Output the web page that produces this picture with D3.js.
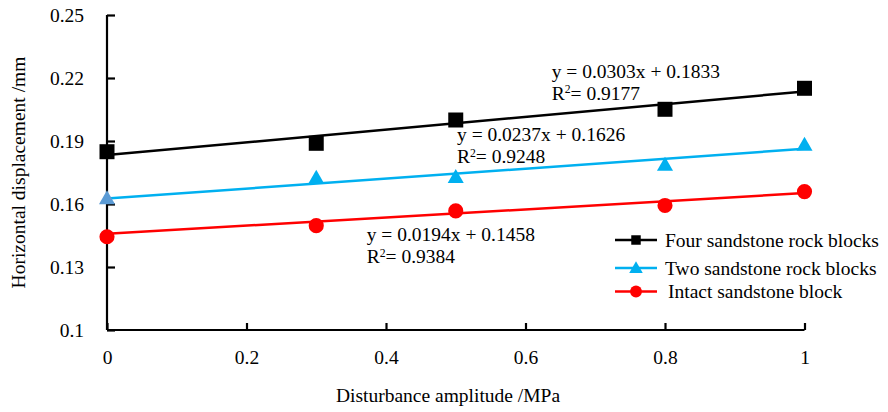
<!DOCTYPE html>
<html>
<head>
<meta charset="utf-8">
<script src="https://cdn.jsdelivr.net/npm/d3@7"></script>
<style>
  html, body { margin: 0; padding: 0; background: #fff; }
  svg { display: block; }
  text { font-family: "Liberation Serif", "Times New Roman", serif; fill: #000; }
</style>
</head>
<body>
<svg id="chart" width="888" height="412"></svg>
<script>
// ---- data ----
const xValues = [0, 0.3, 0.5, 0.8, 1];
const fourBlocks = [0.1849, 0.1889, 0.2000, 0.2051, 0.2151];
const twoBlocks = [0.1621, 0.1719, 0.1722, 0.1781, 0.1876];
const intactBlock = [0.1444, 0.1497, 0.1567, 0.1593, 0.1659];
const seriesNames = ["Four sandstone rock blocks", "Two sandstone rock blocks", "Intact sandstone block"];
const slopes = [0.0303, 0.0237, 0.0194];
const intercepts = [0.1833, 0.1626, 0.1458];
const rSquared = ["0.9177", "0.9248", "0.9384"];
const xTicks = [0, 0.2, 0.4, 0.6, 0.8, 1];
const yTicks = [0.1, 0.13, 0.16, 0.19, 0.22, 0.25];
const xTitle = "Disturbance amplitude /MPa";
const yTitle = "Horizontal displacement /mm";

// ---- styles ----
const colors = ["#000000", "#00B0F0", "#FF0000"];
const firstPointColors = ["#000000", "#5B9BD5", "#FF0000"];
const symbols = [d3.symbolSquare, d3.symbolTriangle, d3.symbolCircle];
const markerSizes = [225, 112, 180];
const legendSizes = [90, 80, 110];
const FS = 19.5;

const svg = d3.select("#chart");
const L = 107, R = 804.5, T = 15, B = 330;
const x = d3.scaleLinear().domain([0, 1]).range([L, R]);
const y = d3.scaleLinear().domain([0.1, 0.25]).range([B, T]);

// axes
const xAxis = d3.axisBottom(x).tickValues(xTicks).tickSize(-7).tickPadding(20)
  .tickFormat(d => String(+d.toFixed(2)));
const yAxis = d3.axisLeft(y).tickValues(yTicks).tickSize(-8).tickPadding(23)
  .tickFormat(d => String(+d.toFixed(2)));

const gx = svg.append("g").attr("transform", `translate(0,${B})`).call(xAxis);
const gy = svg.append("g").attr("transform", `translate(${L},0)`).call(yAxis);
[gx, gy].forEach(g => {
  g.select(".domain").attr("stroke", "#000").attr("stroke-width", 2.2);
  g.selectAll(".tick line").attr("stroke", "#000").attr("stroke-width", 2.2);
  g.selectAll(".tick text").attr("font-size", FS).attr("font-family", "Liberation Serif").attr("fill", "#000");
});
gx.select(".domain").attr("d", `M${L},0H${R}`);
gy.select(".domain").attr("d", `M0,${T}V${B}`);

// axis titles
svg.append("text").attr("x", 448).attr("y", 402).attr("text-anchor", "middle")
  .attr("font-size", FS).text(xTitle);
svg.append("text").attr("transform", `translate(25,${(T + B) / 2}) rotate(-90)`)
  .attr("text-anchor", "middle").attr("font-size", FS).text(yTitle);

// series
const allSeries = [fourBlocks, twoBlocks, intactBlock];
allSeries.forEach((vals, i) => {
  svg.append("line")
    .attr("x1", x(0)).attr("y1", y(intercepts[i]))
    .attr("x2", x(1)).attr("y2", y(intercepts[i] + slopes[i]))
    .attr("stroke", colors[i]).attr("stroke-width", 2.5);
});
allSeries.forEach((vals, i) => {
  svg.append("g").selectAll("path").data(vals).join("path")
    .attr("d", d3.symbol().type(symbols[i]).size(markerSizes[i]))
    .attr("transform", (d, j) => `translate(${x(xValues[j])},${y(d)})`)
    .attr("fill", (d, j) => j === 0 ? firstPointColors[i] : colors[i]);
});

// equations
const eqPos = [[551.7, 77.5], [457, 141], [366.7, 241]];
eqPos.forEach((p, i) => {
  svg.append("text").attr("x", p[0]).attr("y", p[1]).attr("font-size", FS)
    .text(`y = ${slopes[i].toFixed(4)}x + ${intercepts[i].toFixed(4)}`);
  const t = svg.append("text").attr("x", p[0]).attr("y", p[1] + 22).attr("font-size", FS);
  t.append("tspan").text("R");
  t.append("tspan").attr("font-size", FS * 0.6).attr("dy", -6.5).text("2");
  t.append("tspan").attr("dy", 6.5).text(`= ${rSquared[i]}`);
});

// legend
const legY = [240, 268, 291.5];
const legTextX = [665, 665, 668];
seriesNames.forEach((name, i) => {
  const g = svg.append("g");
  g.append("line").attr("x1", 615).attr("x2", 657).attr("y1", legY[i]).attr("y2", legY[i])
    .attr("stroke", colors[i]).attr("stroke-width", 2.5);
  g.append("path").attr("d", d3.symbol().type(symbols[i]).size(legendSizes[i]))
    .attr("transform", `translate(636,${legY[i] + (i === 1 ? 1 : 0)})`).attr("fill", colors[i]);
  g.append("text").attr("x", legTextX[i]).attr("y", legY[i]).attr("dy", "0.35em")
    .attr("font-size", FS).text(name);
});
</script>
</body>
</html>
